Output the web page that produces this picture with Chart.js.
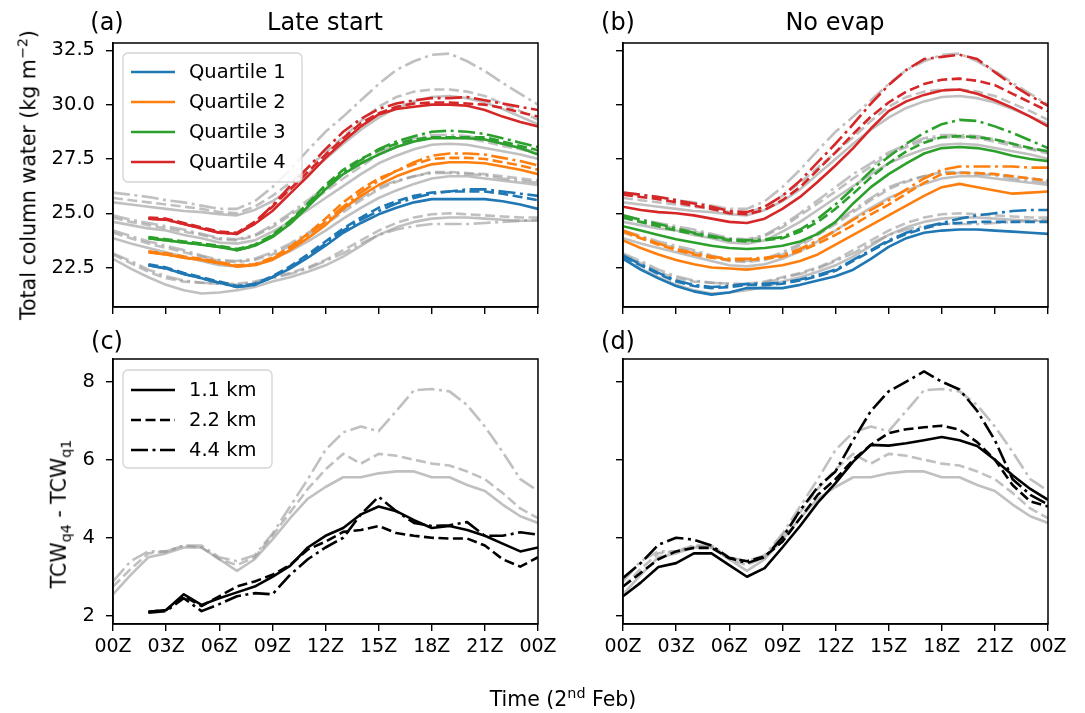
<!DOCTYPE html>
<html><head><meta charset="utf-8">
<script src="https://cdn.jsdelivr.net/npm/chart.js@4.4.1/dist/chart.umd.min.js"></script>
<style>
body{margin:0;background:#fff;width:1085px;height:713px;position:relative;overflow:hidden;font-family:"DejaVu Sans",sans-serif;}
canvas{position:absolute;}
.t{position:absolute;white-space:nowrap;color:#000;transform:translate(-50%,-50%);line-height:1;}
.r{transform:translate(-50%,-50%) rotate(-90deg);}
sub,sup{font-size:70%;}
</style></head><body>
<canvas id="ca" width="575" height="335" style="left:0;top:0"></canvas>
<canvas id="cb" width="510" height="335" style="left:575px;top:0"></canvas>
<canvas id="cc" width="575" height="378" style="left:0;top:335px"></canvas>
<canvas id="cd" width="510" height="378" style="left:575px;top:335px"></canvas>
<div class="t" style="left:107px;top:22px;font-size:24px">(a)</div>
<div class="t" style="left:325px;top:22px;font-size:24px">Late start</div>
<div class="t" style="left:618px;top:22px;font-size:24px">(b)</div>
<div class="t" style="left:835px;top:22px;font-size:24px">No evap</div>
<div class="t" style="left:107px;top:341px;font-size:24px">(c)</div>
<div class="t" style="left:618px;top:341px;font-size:24px">(d)</div>
<div class="t r" style="left:27px;top:175px;font-size:20.5px">Total column water (kg m<sup>−2</sup>)</div>
<div class="t r" style="left:61px;top:514px;font-size:20.5px">TCW<sub>q4</sub> - TCW<sub>q1</sub></div>
<div class="t" style="left:563px;top:698px;font-size:20.5px">Time (2<sup>nd</sup> Feb)</div>
<script>
const HOURS = [0,1,2,3,4,5,6,7,8,9,10,11,12,13,14,15,16,17,18,19,20,21,22,23,24];
const X_TICKS = [0,3,6,9,12,15,18,21,24];
const X_TICK_LABELS = ['00Z','03Z','06Z','09Z','12Z','15Z','18Z','21Z','00Z'];
const TCW_TICKS = [22.5,25.0,27.5,30.0,32.5];
const DIFF_TICKS = [2,4,6,8];
const QUARTILES = ['Quartile 1','Quartile 2','Quartile 3','Quartile 4'];
const RESOLUTIONS = ['1.1 km','2.2 km','4.4 km'];

// Control (grey) total column water, by quartile and resolution
const ctrlQ1_1p1 = [22.9,22.45,22.05,21.7,21.45,21.3,21.35,21.45,21.6,21.85,22.05,22.3,22.6,23.0,23.5,24.0,24.35,24.6,24.75,24.8,24.8,24.75,24.7,24.65,24.65];
const ctrlQ1_2p2 = [23.1,22.7,22.3,22.0,21.85,21.8,21.75,21.75,21.85,22.05,22.25,22.5,22.85,23.3,23.75,24.2,24.55,24.8,24.95,25.0,24.95,24.9,24.85,24.8,24.8];
const ctrlQ1_4p4 = [23.15,22.8,22.4,22.1,21.9,21.8,21.75,21.7,21.8,22.0,22.2,22.45,22.8,23.15,23.6,24.0,24.25,24.4,24.5,24.5,24.5,24.55,24.6,24.65,24.7];
const ctrlQ2_1p1 = [23.85,23.6,23.4,23.2,23.0,22.8,22.6,22.55,22.65,22.9,23.25,23.7,24.2,24.75,25.25,25.7,26.05,26.35,26.6,26.7,26.7,26.6,26.5,26.4,26.3];
const ctrlQ2_2p2 = [24.1,23.85,23.6,23.4,23.2,23.0,22.8,22.75,22.85,23.1,23.5,24.0,24.5,25.05,25.6,26.1,26.45,26.7,26.9,26.9,26.85,26.8,26.7,26.6,26.5];
const ctrlQ2_4p4 = [24.2,23.95,23.7,23.5,23.3,23.05,22.85,22.8,22.9,23.2,23.6,24.1,24.6,25.15,25.7,26.2,26.5,26.7,26.85,26.85,26.8,26.75,26.6,26.5,26.4];
const ctrlQ3_1p1 = [24.6,24.45,24.3,24.2,24.0,23.85,23.65,23.6,23.75,24.15,24.6,25.15,25.7,26.25,26.8,27.3,27.65,27.95,28.15,28.2,28.15,28.0,27.85,27.7,27.5];
const ctrlQ3_2p2 = [24.8,24.6,24.45,24.3,24.15,24.0,23.8,23.75,23.95,24.35,24.9,25.45,26.0,26.6,27.15,27.7,28.05,28.35,28.5,28.5,28.45,28.3,28.1,27.95,27.75];
const ctrlQ3_4p4 = [24.9,24.7,24.55,24.4,24.25,24.05,23.85,23.8,24.0,24.45,25.0,25.6,26.2,26.8,27.3,27.8,28.15,28.45,28.6,28.6,28.55,28.4,28.2,28.0,27.8];
const ctrlQ4_1p1 = [25.5,25.4,25.3,25.2,25.1,25.05,24.95,24.9,25.15,25.55,26.1,26.8,27.5,28.2,28.85,29.4,29.85,30.15,30.35,30.4,30.3,30.1,29.8,29.45,29.1];
const ctrlQ4_2p2 = [25.7,25.6,25.5,25.4,25.3,25.2,25.05,25.0,25.3,25.8,26.4,27.1,27.8,28.5,29.25,29.9,30.35,30.6,30.7,30.7,30.6,30.4,30.05,29.7,29.3];
const ctrlQ4_4p4 = [25.95,25.85,25.75,25.6,25.5,25.35,25.2,25.2,25.55,26.2,27.0,27.9,28.75,29.45,30.2,30.95,31.6,32.0,32.3,32.35,32.0,31.55,31.0,30.5,30.0];

// Late start (starts 02Z)
const lateQ1_1p1 = [null,null,22.6,22.45,22.2,22.0,21.8,21.6,21.7,22.05,22.45,22.95,23.5,24.1,24.55,24.95,25.25,25.5,25.65,25.65,25.65,25.65,25.55,25.4,25.2];
const lateQ1_2p2 = [null,null,22.65,22.5,22.25,22.05,21.85,21.65,21.75,22.1,22.55,23.1,23.7,24.3,24.8,25.25,25.55,25.8,25.95,26.0,26.0,26.0,25.9,25.75,25.6];
const lateQ1_4p4 = [null,null,22.6,22.45,22.2,22.0,21.8,21.6,21.7,22.05,22.5,23.0,23.6,24.2,24.7,25.1,25.45,25.7,25.9,26.0,26.1,26.1,26.0,25.9,25.8];
const lateQ2_1p1 = [null,null,23.2,23.1,22.95,22.85,22.7,22.55,22.6,22.85,23.3,23.85,24.45,25.2,25.8,26.3,26.7,27.0,27.25,27.35,27.35,27.3,27.15,27.0,26.8];
const lateQ2_2p2 = [null,null,23.25,23.15,23.0,22.9,22.75,22.6,22.65,22.95,23.45,24.05,24.75,25.5,26.1,26.6,26.95,27.25,27.5,27.55,27.55,27.5,27.35,27.2,27.0];
const lateQ2_4p4 = [null,null,23.2,23.1,22.95,22.85,22.7,22.55,22.6,22.9,23.4,24.0,24.6,25.3,25.95,26.5,26.95,27.35,27.65,27.75,27.75,27.7,27.55,27.4,27.2];
const lateQ3_1p1 = [null,null,23.85,23.75,23.65,23.55,23.45,23.3,23.5,23.9,24.5,25.3,26.1,26.8,27.3,27.7,28.05,28.3,28.45,28.45,28.45,28.4,28.2,28.0,27.7];
const lateQ3_2p2 = [null,null,23.9,23.8,23.7,23.6,23.5,23.35,23.55,24.0,24.65,25.45,26.3,27.0,27.5,27.9,28.2,28.4,28.5,28.5,28.5,28.5,28.3,28.1,27.9];
const lateQ3_4p4 = [null,null,23.85,23.75,23.65,23.55,23.45,23.3,23.5,23.95,24.6,25.4,26.2,26.9,27.45,27.95,28.3,28.55,28.75,28.8,28.75,28.65,28.45,28.25,28.05];
const lateQ4_1p1 = [null,null,24.75,24.7,24.5,24.3,24.1,24.05,24.5,25.1,25.9,26.7,27.55,28.3,29.0,29.55,29.8,29.9,30.0,30.0,29.95,29.75,29.45,29.2,29.0];
const lateQ4_2p2 = [null,null,24.8,24.75,24.55,24.35,24.15,24.1,24.6,25.3,26.1,26.9,27.7,28.45,29.15,29.6,29.9,30.05,30.1,30.1,30.05,30.0,29.85,29.65,29.45];
const lateQ4_4p4 = [null,null,24.75,24.7,24.5,24.3,24.1,24.05,24.55,25.35,26.25,27.1,27.95,28.75,29.35,29.8,30.05,30.2,30.3,30.3,30.35,30.2,30.05,29.9,29.75];

// No evap
const noevQ1_1p1 = [22.9,22.4,22.0,21.65,21.4,21.25,21.35,21.55,21.55,21.55,21.7,21.9,22.1,22.4,22.9,23.45,23.85,24.1,24.2,24.25,24.25,24.2,24.15,24.1,24.05];
const noevQ1_2p2 = [23.0,22.6,22.2,21.85,21.65,21.55,21.6,21.7,21.7,21.75,21.9,22.1,22.35,22.8,23.25,23.7,24.05,24.3,24.5,24.55,24.6,24.6,24.6,24.6,24.6];
const noevQ1_4p4 = [23.05,22.65,22.25,21.9,21.7,21.6,21.65,21.75,21.75,21.8,21.95,22.15,22.4,22.85,23.3,23.75,24.1,24.35,24.55,24.75,24.9,25.0,25.1,25.15,25.15];
const noevQ2_1p1 = [23.75,23.4,23.1,22.85,22.65,22.5,22.45,22.4,22.5,22.6,22.8,23.1,23.55,24.0,24.45,24.9,25.35,25.8,26.2,26.35,26.2,26.05,25.9,25.95,26.0];
const noevQ2_2p2 = [24.15,23.85,23.55,23.3,23.1,22.95,22.85,22.85,22.9,23.0,23.25,23.6,24.0,24.45,24.95,25.4,25.9,26.4,26.8,26.85,26.85,26.8,26.7,26.6,26.5];
const noevQ2_4p4 = [24.2,23.9,23.6,23.35,23.15,23.0,22.9,22.9,22.95,23.05,23.35,23.75,24.2,24.7,25.15,25.6,26.1,26.6,27.0,27.15,27.15,27.15,27.15,27.1,27.1];
const noevQ3_1p1 = [24.4,24.2,24.0,23.8,23.65,23.5,23.4,23.35,23.4,23.5,23.7,24.05,24.6,25.45,26.2,26.8,27.3,27.75,28.0,28.05,28.0,27.85,27.65,27.5,27.4];
const noevQ3_2p2 = [24.8,24.6,24.4,24.2,24.05,23.9,23.75,23.7,23.75,23.85,24.15,24.6,25.2,25.9,26.65,27.3,27.85,28.25,28.5,28.55,28.5,28.4,28.2,28.0,27.85];
const noevQ3_4p4 = [24.9,24.7,24.5,24.3,24.1,23.95,23.8,23.75,23.8,23.9,24.25,24.75,25.4,26.15,26.95,27.6,28.2,28.7,29.1,29.3,29.25,29.0,28.7,28.35,28.0];
const noevQ4_1p1 = [25.3,25.15,25.05,25.0,24.9,24.75,24.6,24.55,24.75,25.2,25.75,26.45,27.2,28.0,28.9,29.7,30.15,30.45,30.65,30.7,30.5,30.2,29.85,29.45,29.0];
const noevQ4_2p2 = [25.85,25.75,25.65,25.5,25.35,25.2,25.0,24.95,25.15,25.6,26.2,27.0,27.8,28.65,29.45,30.1,30.6,30.95,31.15,31.2,31.1,30.9,30.5,30.1,29.7];
const noevQ4_4p4 = [25.95,25.85,25.75,25.6,25.45,25.3,25.1,25.05,25.3,25.8,26.5,27.35,28.2,29.1,30.05,30.9,31.6,32.1,32.2,32.3,32.1,31.5,30.9,30.4,29.95];

// TCW q4 - q1
const ctrlDiff_1p1 = [2.55,3.05,3.5,3.6,3.75,3.75,3.45,3.15,3.45,3.95,4.5,5.0,5.3,5.55,5.55,5.65,5.7,5.7,5.55,5.55,5.35,5.2,4.85,4.55,4.38];
const ctrlDiff_2p2 = [2.75,3.2,3.6,3.65,3.8,3.75,3.45,3.3,3.5,4.05,4.65,5.25,5.75,6.15,5.9,6.15,6.1,6.0,5.9,5.85,5.7,5.5,5.15,4.75,4.5];
const ctrlDiff_4p4 = [2.88,3.4,3.65,3.65,3.8,3.8,3.5,3.4,3.55,4.1,4.8,5.5,6.25,6.7,6.85,6.73,7.25,7.78,7.81,7.75,7.4,6.85,6.2,5.5,5.2];
const lateDiff_1p1 = [null,null,2.1,2.15,2.55,2.28,2.45,2.6,2.75,3.0,3.28,3.75,4.05,4.25,4.6,4.8,4.68,4.45,4.25,4.3,4.2,4.05,3.85,3.65,3.75];
const lateDiff_2p2 = [null,null,2.1,2.15,2.5,2.25,2.5,2.75,2.88,3.05,3.3,3.7,3.9,4.15,4.2,4.3,4.12,4.05,4.0,3.98,3.98,3.8,3.45,3.26,3.5];
const lateDiff_4p4 = [null,null,2.08,2.12,2.45,2.12,2.3,2.5,2.58,2.55,3.05,3.45,3.75,4.0,4.6,5.05,4.68,4.38,4.3,4.32,4.4,4.05,4.05,4.14,4.08];
const noevDiff_1p1 = [2.5,2.85,3.25,3.35,3.6,3.6,3.3,3.0,3.22,3.75,4.3,4.9,5.4,5.95,6.38,6.36,6.42,6.5,6.58,6.5,6.35,6.0,5.6,5.25,4.97];
const noevDiff_2p2 = [2.75,3.1,3.45,3.65,3.74,3.74,3.48,3.4,3.52,3.9,4.5,5.1,5.5,6.0,6.38,6.68,6.78,6.83,6.87,6.77,6.45,6.0,5.35,4.93,4.8];
const noevDiff_4p4 = [2.97,3.35,3.82,4.0,3.95,3.8,3.48,3.35,3.5,4.0,4.7,5.3,5.7,6.5,7.25,7.75,8.0,8.26,8.0,7.8,7.25,6.5,5.5,5.1,4.85];

Chart.defaults.font.family = '"DejaVu Sans", sans-serif';
Chart.defaults.color = '#000';

const COLORS = ['#1f77b4','#ff7f0e','#2ca02c','#d62728'];
const GRAY = 'rgba(150,150,150,0.6)';
const BLACK = '#000000';
const DASHES = [[], [10,4.5], [17,4.5,3,4.5]];
const LW = 2.6;

function ds(values, color, dashIdx, order, label) {
  return {
    label: label || '',
    data: values.map((v, i) => ({x: HOURS[i], y: v})),
    borderColor: color, borderDash: DASHES[dashIdx], borderWidth: LW,
    pointRadius: 0, fill: false, tension: 0, order: order, spanGaps: false,
    borderCapStyle: 'butt', borderJoinStyle: 'round'
  };
}

const ctrlGroups = [[ctrlQ1_1p1,ctrlQ1_2p2,ctrlQ1_4p4],[ctrlQ2_1p1,ctrlQ2_2p2,ctrlQ2_4p4],[ctrlQ3_1p1,ctrlQ3_2p2,ctrlQ3_4p4],[ctrlQ4_1p1,ctrlQ4_2p2,ctrlQ4_4p4]];
const lateGroups = [[lateQ1_1p1,lateQ1_2p2,lateQ1_4p4],[lateQ2_1p1,lateQ2_2p2,lateQ2_4p4],[lateQ3_1p1,lateQ3_2p2,lateQ3_4p4],[lateQ4_1p1,lateQ4_2p2,lateQ4_4p4]];
const noevGroups = [[noevQ1_1p1,noevQ1_2p2,noevQ1_4p4],[noevQ2_1p1,noevQ2_2p2,noevQ2_4p4],[noevQ3_1p1,noevQ3_2p2,noevQ3_4p4],[noevQ4_1p1,noevQ4_2p2,noevQ4_4p4]];
const ctrlDiffs = [ctrlDiff_1p1, ctrlDiff_2p2, ctrlDiff_4p4];
const lateDiffs = [lateDiff_1p1, lateDiff_2p2, lateDiff_4p4];
const noevDiffs = [noevDiff_1p1, noevDiff_2p2, noevDiff_4p4];

function tcwSets(expGroups) {
  const out = [];
  expGroups.forEach((g, q) => g.forEach((arr, r) => out.push(ds(arr, COLORS[q], r, 1, QUARTILES[q]))));
  ctrlGroups.forEach((g) => g.forEach((arr, r) => out.push(ds(arr, GRAY, r, 2, 'control'))));
  return out;
}
function diffSets(expDiffs) {
  const out = [];
  expDiffs.forEach((arr, r) => out.push(ds(arr, BLACK, r, 1, RESOLUTIONS[r])));
  ctrlDiffs.forEach((arr, r) => out.push(ds(arr, GRAY, r, 2, 'control')));
  return out;
}

const framePlugin = {
  id: 'frame',
  afterDatasetsDraw(chart) {
    const {ctx, chartArea: a} = chart;
    ctx.save();
    ctx.strokeStyle = '#000'; ctx.lineWidth = 1.5;
    ctx.strokeRect(a.left, a.top, a.right - a.left, a.bottom - a.top);
    ctx.restore();
  }
};
const legendPlugin = {
  id: 'innerLegend',
  afterDatasetsDraw(chart, args, opts) {
    if (!opts || !opts.items) return;
    const {ctx, chartArea: a} = chart;
    const x = a.left + opts.dx, y = a.top + opts.dy;
    ctx.save();
    ctx.beginPath();
    if (ctx.roundRect) ctx.roundRect(x, y, opts.w, opts.h, 5); else ctx.rect(x, y, opts.w, opts.h);
    ctx.fillStyle = 'rgba(255,255,255,0.85)'; ctx.fill();
    ctx.strokeStyle = '#d3d3d3'; ctx.lineWidth = 1.3; ctx.stroke();
    ctx.font = '19.5px "DejaVu Sans", sans-serif';
    ctx.textBaseline = 'middle'; ctx.fillStyle = '#000';
    opts.items.forEach((it, i) => {
      const yy = y + opts.first + i * opts.step;
      ctx.beginPath();
      ctx.setLineDash(it.dash);
      ctx.strokeStyle = it.color; ctx.lineWidth = LW;
      ctx.moveTo(x + 8, yy); ctx.lineTo(x + 52, yy); ctx.stroke();
      ctx.setLineDash([]);
      ctx.fillText(it.label, x + 66, yy + 1);
    });
    ctx.restore();
  }
};

function makeChart(id, datasets, o) {
  new Chart(document.getElementById(id), {
    type: 'line',
    data: {datasets: datasets},
    options: {
      responsive: false, animation: false, devicePixelRatio: 1,
      layout: {padding: o.padding},
      plugins: {legend: {display: false}, tooltip: {enabled: false}, innerLegend: o.legend || {}},
      scales: {
        x: {
          type: 'linear', min: 0, max: 24,
          afterBuildTicks: s => { s.ticks = X_TICKS.map(v => ({value: v})); },
          ticks: {display: o.xLabels, callback: (v, i) => X_TICK_LABELS[i], font: {size: 19}, padding: 5, maxRotation: 0, autoSkip: false, color: '#000'},
          grid: {drawOnChartArea: false, drawTicks: true, tickLength: 7, color: '#000', lineWidth: 1.4},
          border: {display: true, color: '#000', width: 1.5},
          afterFit: s => { s.height = o.xH; }
        },
        y: {
          type: 'linear', min: o.ymin, max: o.ymax,
          afterBuildTicks: s => { s.ticks = o.yTicks.map(v => ({value: v})); },
          ticks: {display: o.yLabels, callback: v => o.yFmt(v), font: {size: 19.5}, padding: 11, autoSkip: false, color: '#000'},
          grid: {drawOnChartArea: false, drawTicks: true, tickLength: 7, color: '#000', lineWidth: 1.4},
          border: {display: true, color: '#000', width: 1.5},
          afterFit: s => { s.width = o.yW; }
        }
      }
    },
    plugins: [framePlugin, legendPlugin]
  });
}

const quartileLegend = {dx: 10, dy: 10, w: 179, h: 129, first: 19, step: 30,
  items: QUARTILES.map((l, q) => ({label: l, color: COLORS[q], dash: []}))};
const resLegend = {dx: 10, dy: 11, w: 149, h: 98, first: 20, step: 30,
  items: RESOLUTIONS.map((l, r) => ({label: l, color: BLACK, dash: DASHES[r]}))};

const fmt1 = v => v.toFixed(1);
const fmt0 = v => String(v);

makeChart('ca', tcwSets(lateGroups), {padding: {left: 43, top: 43, right: 37, bottom: 18}, xH: 10, yW: 70, xLabels: false, yLabels: true, ymin: 20.68, ymax: 32.84, yTicks: TCW_TICKS, yFmt: fmt1, legend: quartileLegend});
makeChart('cb', tcwSets(noevGroups), {padding: {left: 38, top: 43, right: 37, bottom: 18}, xH: 10, yW: 10, xLabels: false, yLabels: false, ymin: 20.68, ymax: 32.84, yTicks: TCW_TICKS, yFmt: fmt1});
makeChart('cc', diffSets(lateDiffs), {padding: {left: 43, top: 24, right: 37, bottom: 49}, xH: 40, yW: 70, xLabels: true, yLabels: true, ymin: 1.79, ymax: 8.58, yTicks: DIFF_TICKS, yFmt: fmt0, legend: resLegend});
makeChart('cd', diffSets(noevDiffs), {padding: {left: 38, top: 24, right: 37, bottom: 49}, xH: 40, yW: 10, xLabels: true, yLabels: false, ymin: 1.79, ymax: 8.58, yTicks: DIFF_TICKS, yFmt: fmt0});
</script>
</body></html>
